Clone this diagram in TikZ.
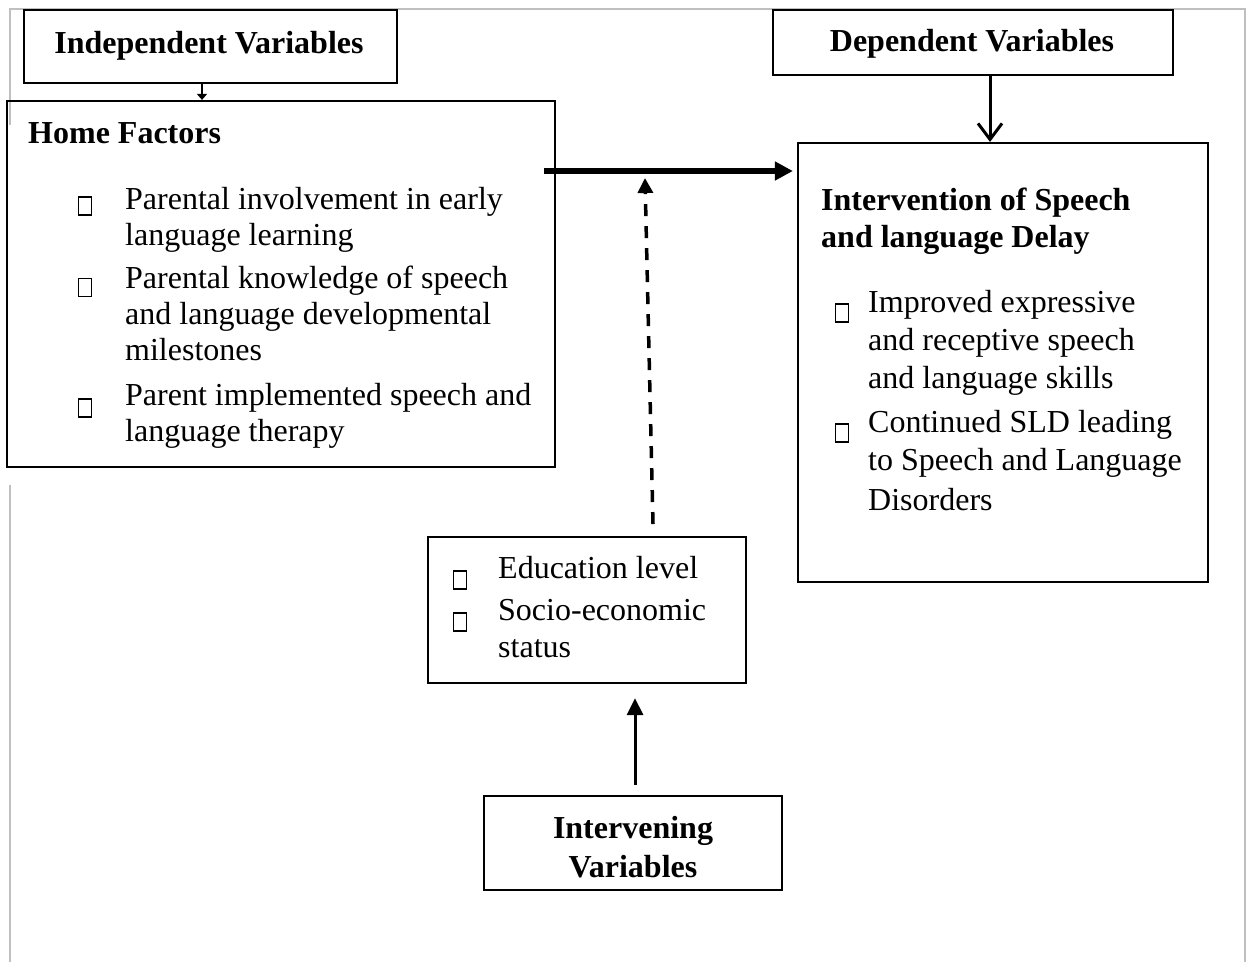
\documentclass[tikz,border=0pt]{standalone}
\usepackage{fontspec}
\setmainfont{Liberation Serif}
\usetikzlibrary{arrows.meta}
\begin{document}
\begin{tikzpicture}[x=1pt,y=-1pt,
  box/.style={draw, line width=2.2pt, inner sep=0pt},
  txt/.style={anchor=base west, inner sep=0pt, font=\fontsize{32}{36}\selectfont},
  hd/.style={anchor=base west, inner sep=0pt, font=\fontsize{32}{36}\selectfont\bfseries},
  bul/.style={draw, line width=1.6pt, minimum width=13pt, minimum height=18pt, inner sep=0pt},
  framegray/.style={draw=black!25, line width=2pt}]
\useasboundingbox (0,0) rectangle (1247,962);
% page frame
\draw[framegray] (10,125) -- (10,9) -- (1245,9) -- (1245,962);
\draw[framegray] (10,485) -- (10,962);
% boxes
\node[box, minimum width=373pt, minimum height=73pt] (indep) at (210.5,46.5) {};
\node[box, minimum width=400pt, minimum height=65pt] (dep) at (973,42.5) {};
\node[box, minimum width=548pt, minimum height=366pt] (home) at (281,284) {};
\node[box, minimum width=410pt, minimum height=439pt] (interv) at (1003,362.5) {};
\node[box, minimum width=318pt, minimum height=146pt] (mid) at (587,610) {};
\node[box, minimum width=298pt, minimum height=94pt] (ivar) at (633,843) {};
% titles
\node[hd, anchor=base] (indepT) at (209,53) {Independent Variables};
\node[hd, anchor=base] (depT) at (972,51) {Dependent Variables};
\node[hd, anchor=base] (ivarT1) at (633,838) {Intervening};
\node[hd, anchor=base] (ivarT2) at (633,877) {Variables};
% home factors
\node[hd] (hf) at (28,143) {Home Factors};
\node[bul] (hb1) at (85,206) {};
\node[bul] (hb2) at (85,287.5) {};
\node[bul] (hb3) at (85,408) {};
\node[txt] (h1) at (125,209) {Parental involvement in early};
\node[txt] (h2) at (125,245) {language learning};
\node[txt] (h3) at (125,288) {Parental knowledge of speech};
\node[txt] (h4) at (125,324) {and language developmental};
\node[txt] (h5) at (125,360) {milestones};
\node[txt] (h6) at (125,405) {Parent implemented speech and};
\node[txt] (h7) at (125,441) {language therapy};
% intervention
\node[hd] (it1) at (821,210) {Intervention of Speech};
\node[hd] (it2) at (821,247) {and language Delay};
\node[bul] (ib1) at (842,313) {};
\node[bul] (ib2) at (842,433) {};
\node[txt] (i1) at (868,312) {Improved expressive};
\node[txt] (i2) at (868,350) {and receptive speech};
\node[txt] (i3) at (868,388) {and language skills};
\node[txt] (i4) at (868,432) {Continued SLD leading};
\node[txt] (i5) at (868,470) {to Speech and Language};
\node[txt] (i6) at (868,510) {Disorders};
% intervening items
\node[bul] (mb1) at (460,580) {};
\node[bul] (mb2) at (460,622) {};
\node[txt] (m1) at (498,578) {Education level};
\node[txt] (m2) at (498,620) {Socio-economic};
\node[txt] (m3) at (498,657) {status};
% connectors
\coordinate (c1) at (202,0);
\draw[line width=1.5pt, -{Triangle[length=6pt,width=10pt]}] (indep.south -| c1) -- (home.north -| c1);
\coordinate (c2) at (990,0);
\draw[line width=3pt, -{Straight Barb[length=16pt,width=24pt]}] (dep.south -| c2) -- (interv.north -| c2);
\coordinate (c3) at (0,171);
\draw[line width=6pt, -{Triangle[length=18pt,width=18pt]}] ([xshift=-12pt]home.east |- c3) -- ([xshift=-4pt]interv.west |- c3);
\coordinate (d0) at (653,524);
\coordinate (d1) at (645,178);
\draw[line width=3.5pt, dash pattern=on 12pt off 10pt, -{Triangle[length=15pt,width=15pt]}] (d0) -- (d1);
\coordinate (c4) at (635,0);
\draw[line width=3pt, -{Triangle[length=17pt,width=16pt]}] ([yshift=10pt]ivar.north -| c4) -- ([yshift=-14pt]mid.south -| c4);
\end{tikzpicture}
\end{document}
